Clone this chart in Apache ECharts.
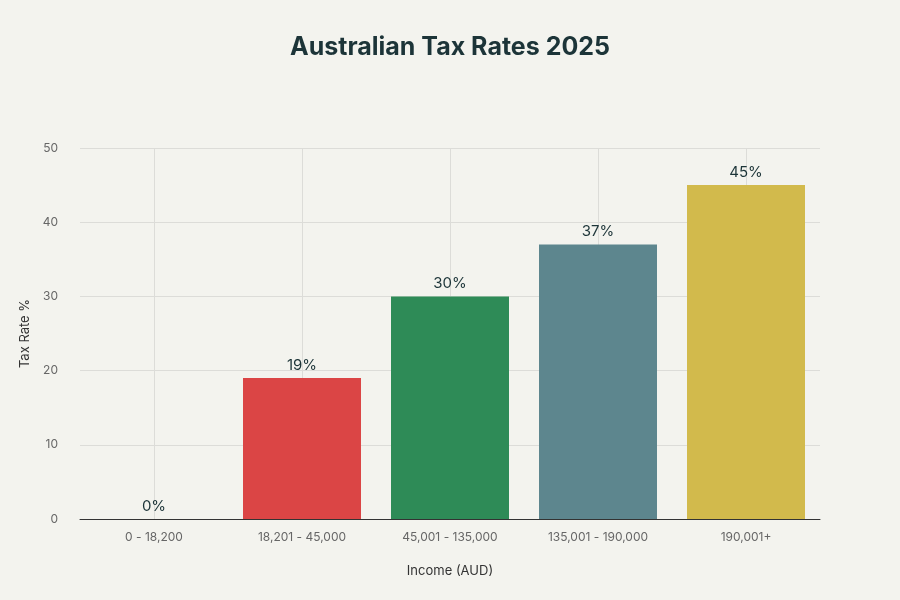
<!DOCTYPE html>
<html>
<head>
<meta charset="utf-8">
<script src="https://cdn.jsdelivr.net/npm/echarts@6/dist/echarts.min.js"></script>
<style>
  html, body { margin: 0; background: #f3f3ee; }
  #chart { width: 900px; height: 600px; }
</style>
</head>
<body>
<div id="chart"></div>
<script>
const brackets = ['0 - 18,200', '18,201 - 45,000', '45,001 - 135,000', '135,001 - 190,000', '190,001+'];
const rates = [0, 19, 30, 37, 45];
const colors = ['#b0b0b0', '#db4545', '#2e8b57', '#5d868e', '#d2ba4c'];
const yTicks = { min: 0, max: 50, interval: 10 };

let chart = echarts.init(document.getElementById('chart'));
const option = {
  backgroundColor: '#f3f3ee',
  textStyle: { fontFamily: 'Inter' },
  title: {
    text: 'Australian Tax Rates 2025',
    left: 'center',
    top: 30,
    textStyle: { fontSize: 25, fontWeight: 'bold', color: '#1c3438' }
  },
  grid: { left: 80, right: 80, top: 148, bottom: 81 },
  xAxis: {
    type: 'category',
    data: brackets,
    name: 'Income (AUD)',
    nameLocation: 'middle',
    nameGap: 46,
    nameTextStyle: { fontSize: 13, color: '#333' },
    axisLine: { lineStyle: { color: '#333' } },
    axisTick: { show: false },
    axisLabel: { color: '#666', fontSize: 12, margin: 12 }
  },
  yAxis: {
    type: 'value',
    min: yTicks.min,
    max: yTicks.max,
    interval: yTicks.interval,
    name: 'Tax Rate %',
    nameLocation: 'middle',
    nameGap: 48,
    nameTextStyle: { fontSize: 13, color: '#333' },
    axisLabel: { color: '#666', fontSize: 12, margin: 22 },
    splitLine: { lineStyle: { color: '#dcdcd8' } }
  },
  series: [{
    type: 'bar',
    barWidth: 118,
    data: rates.map((v, i) => ({ value: v, itemStyle: { color: colors[i] } })),
    label: {
      show: true,
      position: 'top',
      formatter: '{c}%',
      fontSize: 15,
      color: '#1c3438'
    },
    markLine: {
      silent: true,
      symbol: 'none',
      label: { show: false },
      lineStyle: { color: '#dcdcd8', type: 'solid', width: 1 },
      z: 0,
      data: brackets.map(b => ({ xAxis: b }))
    }
  }]
};
chart.setOption(option);
</script>
</body>
</html>
